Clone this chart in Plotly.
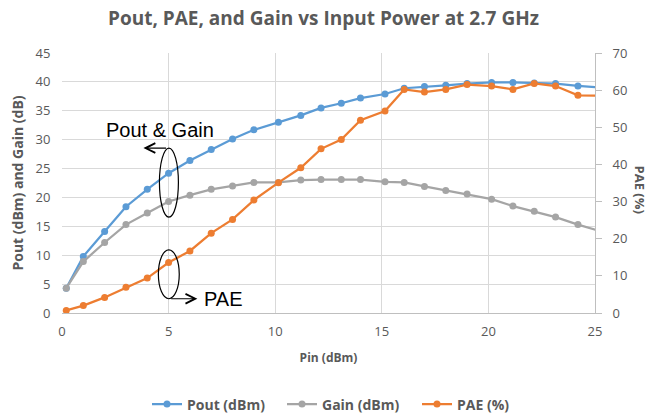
import plotly.graph_objects as go

# Data
pin = [0.2, 1, 2, 3, 4, 5, 6, 7, 8, 9, 10.15, 11.2, 12.15, 13.1, 14, 15.15, 16.05, 17, 18, 19, 20.15, 21.15, 22.15, 23.15, 24.2, 25.4]
pout = [4.3, 9.8, 14.1, 18.4, 21.4, 24.2, 26.4, 28.3, 30.1, 31.7, 33.0, 34.2, 35.5, 36.3, 37.2, 37.9, 38.9, 39.2, 39.4, 39.7, 39.9, 39.9, 39.8, 39.7, 39.3, 39.0]
gain = [4.3, 8.9, 12.2, 15.3, 17.3, 19.3, 20.4, 21.4, 22.0, 22.6, 22.6, 23.0, 23.1, 23.1, 23.1, 22.7, 22.6, 21.9, 21.2, 20.6, 19.7, 18.5, 17.6, 16.6, 15.3, 14.0]
pae = [0.7, 2.0, 4.2, 6.9, 9.4, 13.6, 16.7, 21.5, 25.2, 30.4, 35.1, 39.1, 44.2, 46.7, 51.9, 54.4, 60.2, 59.5, 60.2, 61.5, 61.1, 60.2, 61.8, 61.1, 58.6, 58.5]

names = ["Pout (dBm)", "Gain (dBm)", "PAE (%)"]
colors = ["#5B9BD5", "#A5A5A5", "#ED7D31"]

GRAY = "#595959"
FONT = "Open Sans"

fig = go.Figure()
fig.add_trace(go.Scatter(x=pin, y=pout, name="<b>" + names[0] + "</b>", mode="lines+markers",
                         line=dict(color=colors[0], width=2.25),
                         marker=dict(color=colors[0], size=7)))
fig.add_trace(go.Scatter(x=pin, y=gain, name="<b>" + names[1] + "</b>", mode="lines+markers",
                         line=dict(color=colors[1], width=2.25),
                         marker=dict(color=colors[1], size=7)))
fig.add_trace(go.Scatter(x=pin, y=pae, name="<b>" + names[2] + "</b>", mode="lines+markers", yaxis="y2",
                         line=dict(color=colors[2], width=2.25),
                         marker=dict(color=colors[2], size=7)))

# Annotation ellipses
fig.add_shape(type="circle", xref="x", yref="y", x0=4.57, x1=5.46, y0=16.6, y1=28.55,
              line=dict(color="black", width=1.2))
fig.add_shape(type="circle", xref="x", yref="y", x0=4.52, x1=5.5, y0=2.47, y1=10.93,
              line=dict(color="black", width=1.2))

# Arrows
fig.add_annotation(x=3.82, y=28.55, ax=4.95, ay=28.55, xref="x", yref="y", axref="x", ayref="y",
                   text="", showarrow=True, arrowhead=5, arrowsize=1.6, arrowwidth=1.2, arrowcolor="black")
fig.add_annotation(x=6.35, y=2.47, ax=5.05, ay=2.47, xref="x", yref="y", axref="x", ayref="y",
                   text="", showarrow=True, arrowhead=5, arrowsize=1.6, arrowwidth=1.2, arrowcolor="black")
fig.add_annotation(x=4.61, y=31.6, xref="x", yref="y", text="Pout &amp; Gain", showarrow=False,
                   font=dict(family="Liberation Sans", size=20, color="black"))
fig.add_annotation(x=6.55, y=2.4, xref="x", yref="y", text="PAE", showarrow=False, xanchor="left",
                   font=dict(family="Liberation Sans", size=20, color="black"))

# Right axis title (reads top to bottom)
fig.add_annotation(x=1.0, xref="paper", xshift=45, xanchor="center", y=0.475, yref="paper",
                   yanchor="middle", text="<b>PAE (%)</b>",
                   textangle=90, showarrow=False, font=dict(family=FONT, size=13, color=GRAY))

fig.update_layout(
    width=647, height=417,
    margin=dict(l=62, r=52, t=53, b=104, autoexpand=False),
    paper_bgcolor="white", plot_bgcolor="white",
    title=dict(text="<b>Pout, PAE, and Gain vs Input Power at 2.7 GHz</b>", x=0.5, xanchor="center",
               y=1 - 18 / 417, yanchor="middle", font=dict(family=FONT, size=19, color=GRAY)),
    font=dict(family=FONT, color=GRAY),
    showlegend=True,
    legend=dict(orientation="h", x=(147 - 62) / 533, xanchor="left", y=-0.352, yanchor="middle",
                font=dict(family=FONT, size=14, color=GRAY), itemwidth=30,
                entrywidth=90, entrywidthmode="pixels"),
    xaxis=dict(range=[0, 25], dtick=5, tick0=0, showgrid=True, gridcolor="#d9d9d9", gridwidth=1,
               zeroline=False, showline=True, linecolor="#bfbfbf",
               ticks="outside", ticklen=6, tickcolor="rgba(0,0,0,0)",
               tickfont=dict(family=FONT, size=13, color=GRAY),
               title=dict(text="<b>Pin (dBm)</b>", font=dict(family=FONT, size=12, color=GRAY), standoff=15)),
    yaxis=dict(range=[0, 45], dtick=5, showgrid=True, gridcolor="#d9d9d9", gridwidth=1,
               zeroline=False, showline=False,
               ticks="outside", ticklen=8, tickcolor="rgba(0,0,0,0)",
               tickfont=dict(family=FONT, size=13, color=GRAY),
               title=dict(text="<b>Pout (dBm) and Gain (dB)</b>", font=dict(family=FONT, size=14, color=GRAY), standoff=8)),
    yaxis2=dict(range=[0, 70], dtick=10, overlaying="y", side="right", showgrid=False,
                zeroline=False, showline=True, linecolor="#bfbfbf",
                ticks="outside", ticklen=6, tickcolor="#bfbfbf", ticklabelstandoff=8,
                tickfont=dict(family=FONT, size=13, color=GRAY)),
)

fig.write_html("out.html", config={"displayModeBar": False},
               post_script="document.body.style.margin='0';")
